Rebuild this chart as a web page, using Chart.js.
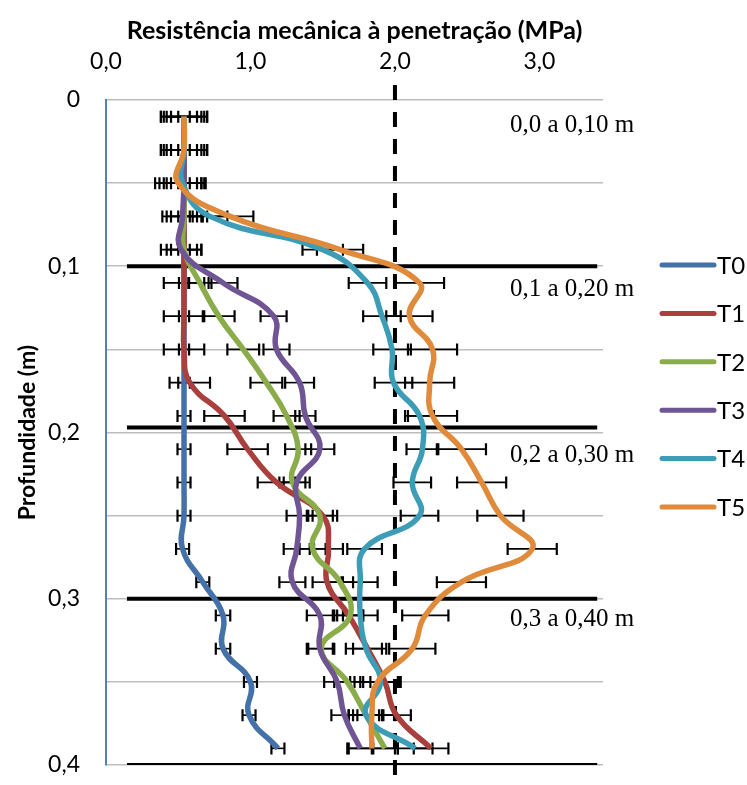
<!DOCTYPE html>
<html>
<head>
<meta charset="utf-8">
<script src="https://cdn.jsdelivr.net/npm/chart.js@4.4.0/dist/chart.umd.min.js"></script>
<style>
  html, body { margin: 0; padding: 0; background: #fff; }
</style>
</head>
<body>
<canvas id="chart" width="747" height="785"></canvas>
<script>
// depth of each reading (m)
const depths = [0.01, 0.03, 0.05, 0.07, 0.09, 0.11, 0.13, 0.15, 0.17, 0.19,
                0.21, 0.23, 0.25, 0.27, 0.29, 0.31, 0.33, 0.35, 0.37, 0.39];

const seriesNames = ["T0", "T1", "T2", "T3", "T4", "T5"];

// penetration resistance (MPa)
const t0 = [0.54, 0.54, 0.54, 0.54, 0.54, 0.54, 0.54, 0.54, 0.54, 0.54, 0.54, 0.54, 0.54, 0.53, 0.67, 0.81, 0.81, 1.00, 0.99, 1.19];
const t1 = [0.54, 0.54, 0.54, 0.54, 0.54, 0.54, 0.54, 0.54, 0.58, 0.82, 0.98, 1.18, 1.50, 1.54, 1.53, 1.68, 1.81, 1.93, 2.01, 2.25];
const t2 = [0.54, 0.54, 0.54, 0.54, 0.54, 0.65, 0.78, 0.95, 1.11, 1.25, 1.33, 1.29, 1.48, 1.43, 1.62, 1.69, 1.49, 1.67, 1.80, 1.93];
const t3 = [0.54, 0.54, 0.54, 0.53, 0.52, 0.81, 1.16, 1.18, 1.34, 1.38, 1.48, 1.32, 1.34, 1.32, 1.29, 1.48, 1.48, 1.60, 1.65, 1.76];
const t4 = [0.54, 0.54, 0.53, 0.72, 1.50, 1.81, 1.91, 1.98, 1.99, 2.17, 2.19, 2.12, 2.17, 1.79, 1.76, 1.76, 1.80, 1.90, 1.80, 2.14];
const t5 = [0.54, 0.54, 0.50, 0.86, 1.62, 2.17, 2.10, 2.26, 2.24, 2.26, 2.46, 2.60, 2.73, 2.95, 2.46, 2.21, 2.12, 1.88, 1.84, 1.84];

// error bar half widths (MPa)
const t0Err = [0.04, 0.04, 0.04, 0.04, 0.04, 0.035, 0.035, 0.035, 0.04, 0.045, 0.045, 0.045, 0.045, 0.045, 0.045, 0.05, 0.05, 0.045, 0.045, 0.045];
const t1Err = [0.09, 0.09, 0.09, 0.09, 0.09, 0.14, 0.14, 0.14, 0.14, 0.14, 0.14, 0.13, 0.10, 0.10, 0.10, 0.10, 0.10, 0.10, 0.10, 0.12];
const t2Err = [0.12, 0.12, 0.12, 0.12, 0.12, 0.08, 0.11, 0.11, 0.11, 0.09, 0.09, 0.09, 0.09, 0.09, 0.09, 0.09, 0.09, 0.09, 0.09, 0.09];
const t3Err = [0.14, 0.14, 0.14, 0.14, 0.14, 0.10, 0.09, 0.09, 0.10, 0.07, 0.10, 0.09, 0.09, 0.09, 0.09, 0.09, 0.09, 0.09, 0.09, 0.09];
const t4Err = [0.16, 0.16, 0.16, 0.12, 0.14, 0.13, 0.13, 0.13, 0.13, 0.10, 0.11, 0.13, 0.13, 0.12, 0.12, 0.12, 0.14, 0.12, 0.12, 0.12];
const t5Err = [0.16, 0.16, 0.16, 0.16, 0.16, 0.17, 0.16, 0.17, 0.17, 0.17, 0.17, 0.17, 0.16, 0.17, 0.17, 0.16, 0.16, 0.16, 0.16, 0.16];

const xTicks = [0, 1, 2, 3];
const layerDepths = [0.1, 0.197, 0.3, 0.4];
const layerLabels = ["0,0 a 0,10 m", "0,1 a 0,20 m", "0,2 a 0,30 m", "0,3 a 0,40 m"];
const criticalValue = 2.0;

const colors = ["#4472a8", "#a9403d", "#8bac4a", "#6f5593", "#3e9db6", "#e08a3b"];
const values = [t0, t1, t2, t3, t4, t5];
const errors = [t0Err, t1Err, t2Err, t3Err, t4Err, t5Err];

const comma = v => v.toFixed(1).replace(".", ",");

// later series sit on top, like in the spreadsheet
const datasets = seriesNames.map((name, i) => ({
    label: name,
    data: depths.map((d, j) => ({ x: values[i][j], y: d })),
    err: errors[i],
    order: seriesNames.length - i,
    borderColor: colors[i],
    borderWidth: 5.5,
    pointRadius: 0,
    tension: 0.45,
    fill: false
}));

// thick black separators between layers
layerDepths.forEach(d => {
    datasets.push({
        label: "",
        data: [{ x: 0.145, y: d }, { x: 3.40, y: d }],
        order: 20,
        borderColor: "#000",
        borderWidth: 4,
        pointRadius: 0,
        tension: 0
    });
});

// dashed 2 MPa limit
datasets.push({
    label: "",
    data: [{ x: criticalValue, y: -0.009 }, { x: criticalValue, y: 0.43 }],
    order: 20,
    borderColor: "#000",
    borderWidth: 4,
    borderDash: [15, 12],
    pointRadius: 0,
    tension: 0,
    clip: false
});

const errorBars = {
    id: "errorBars",
    beforeDatasetsDraw(chart) {
        const { ctx, scales: { x, y } } = chart;
        ctx.save();
        ctx.strokeStyle = "#000";
        chart.data.datasets.forEach(ds => {
            if (!ds.err) return;
            ds.data.forEach((p, j) => {
                const py = y.getPixelForValue(p.y);
                const x0 = x.getPixelForValue(p.x - ds.err[j]);
                const x1 = x.getPixelForValue(p.x + ds.err[j]);
                ctx.lineWidth = 1.6;
                ctx.beginPath();
                ctx.moveTo(x0, py); ctx.lineTo(x1, py);
                ctx.stroke();
                ctx.lineWidth = 2.2;
                ctx.beginPath();
                ctx.moveTo(x0, py - 6); ctx.lineTo(x0, py + 6);
                ctx.moveTo(x1, py - 6); ctx.lineTo(x1, py + 6);
                ctx.stroke();
            });
        });
        ctx.restore();
    }
};

const extras = {
    id: "extras",
    afterDraw(chart) {
        const { ctx } = chart;
        ctx.save();
        // layer captions
        ctx.fillStyle = "#000";
        ctx.font = "25px 'Liberation Serif'";
        ctx.textBaseline = "alphabetic";
        const captionY = [132, 296, 462, 626];
        layerLabels.forEach((t, i) => ctx.fillText(t, 510, captionY[i]));
        // legend
        ctx.font = "24px Lato";
        ctx.textBaseline = "middle";
        ctx.lineCap = "round";
        seriesNames.forEach((name, i) => {
            const ly = 265 + i * 48.4;
            ctx.strokeStyle = colors[i];
            ctx.lineWidth = 5;
            ctx.beginPath();
            ctx.moveTo(662, ly); ctx.lineTo(714, ly);
            ctx.stroke();
            ctx.fillText(name, 717, ly + 1);
        });
        ctx.restore();
    }
};

new Chart(document.getElementById("chart"), {
    type: "line",
    data: { datasets },
    plugins: [errorBars, extras],
    options: {
        indexAxis: "y",
        responsive: false,
        animation: false,
        devicePixelRatio: 1,
        layout: { padding: { left: 0, top: 0, right: 144, bottom: 20 } },
        plugins: {
            legend: { display: false },
            tooltip: { enabled: false }
        },
        scales: {
            x: {
                type: "linear",
                position: "top",
                min: 0,
                max: 3.44,
                afterFit: s => { s.height = 100; s.paddingLeft = 0; s.paddingRight = 0; },
                afterBuildTicks: s => { s.ticks = xTicks.map(v => ({ value: v })); },
                grid: { display: false },
                border: { display: false },
                ticks: {
                    includeBounds: false,
                    padding: 17,
                    color: "#000",
                    font: { family: "Lato", size: 23 },
                    callback: v => comma(v)
                },
                title: {
                    display: true,
                    text: "Resistência mecânica à penetração (MPa)",
                    color: "#000",
                    font: { family: "Lato", size: 25, weight: "bold" },
                    padding: { top: 16, bottom: 4 }
                }
            },
            y: {
                type: "linear",
                reverse: true,
                min: 0,
                max: 0.4,
                afterFit: s => { s.width = 106; s.paddingTop = 0; s.paddingBottom = 0; },
                grid: { color: "#bdbdbd", lineWidth: 1.6, drawTicks: false },
                border: { color: "#4f81bd", width: 2 },
                ticks: {
                    stepSize: 0.05,
                    autoSkip: false,
                    padding: 26,
                    color: "#000",
                    font: { family: "Lato", size: 23 },
                    callback: v => {
                        const k = Math.round(v * 100);
                        if (k % 10 !== 0) return "";
                        return k === 0 ? "0" : comma(v);
                    }
                },
                title: {
                    display: true,
                    text: "Profundidade (m)",
                    color: "#000",
                    font: { family: "Lato", size: 23, weight: "bold" },
                    padding: { top: 14, bottom: 0 }
                }
            }
        }
    }
});
</script>
</body>
</html>
